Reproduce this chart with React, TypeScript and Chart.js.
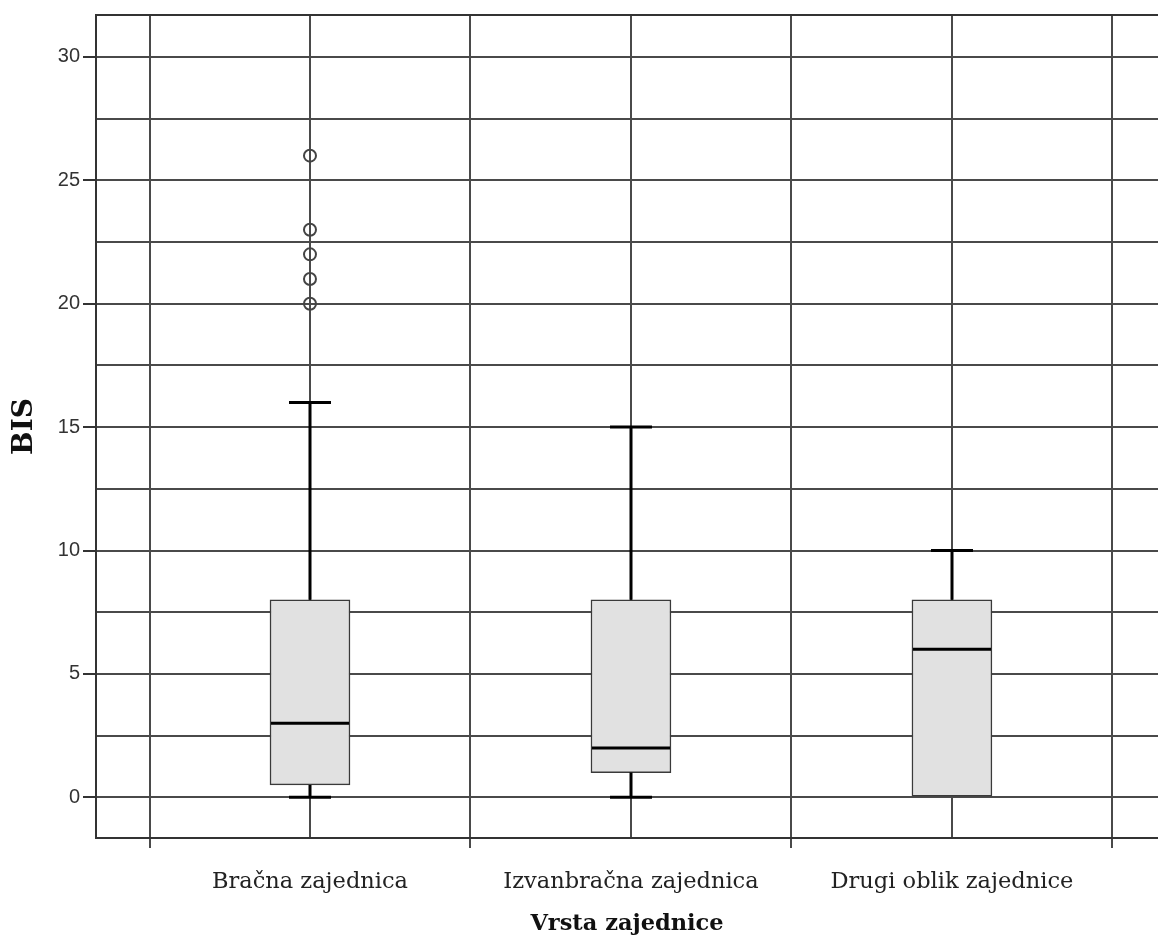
import React, { useEffect, useRef } from "react";
import { Chart, registerables } from "chart.js";

Chart.register(...registerables);

// ---- data ----
const categories = ["Bračna zajednica", "Izvanbračna zajednica", "Drugi oblik zajednice"];
const whiskerLow = [0, 0, 0];
const q1 = [0.5, 1, 0];
const median = [3, 2, 6];
const q3 = [8, 8, 8];
const whiskerHigh = [16, 15, 10];
const outliers = [[20, 21, 22, 23, 26], [], []];
const yTickValues = [0, 2.5, 5, 7.5, 10, 12.5, 15, 17.5, 20, 22.5, 25, 27.5, 30];
const xTickValues = [0.5, 1, 1.5, 2, 2.5, 3, 3.5];
const yAxisTitle = "BIS";
const xAxisTitle = "Vrsta zajednice";

const GRID = "#4a4a4a";
const CLEAR = "rgba(0,0,0,0)";

const boxPlugin = {
  id: "boxWhiskers",
  beforeDatasetsDraw(chart: any) {
    const { ctx, chartArea } = chart;
    ctx.save();
    ctx.strokeStyle = "#333";
    ctx.lineWidth = 2;
    ctx.beginPath();
    ctx.moveTo(chartArea.right + 10, chartArea.top);
    ctx.lineTo(chartArea.left, chartArea.top);
    ctx.lineTo(chartArea.left, chartArea.bottom);
    ctx.lineTo(chartArea.right + 10, chartArea.bottom);
    ctx.stroke();
    ctx.restore();
  },
  afterDatasetsDraw(chart: any) {
    const { ctx } = chart;
    const xs = chart.scales.x;
    const ys = chart.scales.y;
    const capHalf = 21;
    const boxHalf = 40;
    ctx.save();
    ctx.strokeStyle = "#000";
    ctx.lineWidth = 3;
    ctx.lineCap = "butt";
    categories.forEach((_, i) => {
      const cx = Math.round(xs.getPixelForValue(i + 1));
      const yHi = ys.getPixelForValue(whiskerHigh[i]);
      const yQ3 = ys.getPixelForValue(q3[i]);
      const yQ1 = ys.getPixelForValue(q1[i]);
      const yLo = ys.getPixelForValue(whiskerLow[i]);
      const yMed = ys.getPixelForValue(median[i]);
      ctx.beginPath();
      if (whiskerHigh[i] > q3[i]) {
        ctx.moveTo(cx, yQ3);
        ctx.lineTo(cx, yHi);
        ctx.moveTo(cx - capHalf, yHi);
        ctx.lineTo(cx + capHalf, yHi);
      }
      if (whiskerLow[i] < q1[i]) {
        ctx.moveTo(cx, yQ1);
        ctx.lineTo(cx, yLo);
        ctx.moveTo(cx - capHalf, yLo);
        ctx.lineTo(cx + capHalf, yLo);
      }
      ctx.moveTo(cx - boxHalf + 1, yMed);
      ctx.lineTo(cx + boxHalf - 1, yMed);
      ctx.stroke();
    });
    ctx.restore();
  },
};

export default function App() {
  const canvasRef = useRef<HTMLCanvasElement | null>(null);

  useEffect(() => {
    const canvas = canvasRef.current;
    if (!canvas) return;

    const outlierPoints: { x: number; y: number }[] = [];
    outliers.forEach((list, i) => list.forEach((v) => outlierPoints.push({ x: i + 1, y: v })));

    const chart = new Chart(canvas, {
      type: "bar",
      data: {
        datasets: [
          {
            type: "bar",
            data: categories.map((_, i) => ({ x: i + 1, y: [q1[i], q3[i]] })) as any,
            backgroundColor: "#e1e1e1",
            borderColor: "#3a3a3a",
            borderWidth: 1.5,
            borderSkipped: false,
            barThickness: 80,
          } as any,
          {
            type: "scatter",
            data: outlierPoints,
            pointStyle: "circle",
            pointRadius: 6,
            pointHoverRadius: 6,
            pointBorderWidth: 2,
            pointBorderColor: "#444",
            pointBackgroundColor: CLEAR,
          } as any,
        ],
      },
      options: {
        animation: false,
        responsive: true,
        maintainAspectRatio: false,
        layout: { padding: { top: 13, left: 0, right: 0, bottom: 0 } },
        plugins: {
          legend: { display: false },
          tooltip: { enabled: false },
        },
        scales: {
          x: {
            type: "linear",
            position: "bottom",
            min: 0.3333,
            max: 3.642,
            offset: false,
            afterBuildTicks: (s: any) => {
              s.ticks = xTickValues.map((v) => ({ value: v }));
            },
            afterFit: (s: any) => {
              s.height = 103;
              s.paddingLeft = 0;
              s.paddingRight = 0;
            },
            border: { display: false },
            grid: {
              offset: false,
              color: GRID,
              lineWidth: 2,
              tickLength: 10,
              tickColor: (c: any) => (c.tick && Number.isInteger(c.tick.value) ? CLEAR : GRID),
            },
            ticks: {
              autoSkip: false,
              maxRotation: 0,
              minRotation: 0,
              padding: 21,
              color: "#222",
              font: { family: "DejaVu Serif", size: 22.5 },
              callback: (v: any) => (Number.isInteger(v) ? categories[v - 1] : ""),
            },
            title: {
              display: true,
              text: xAxisTitle,
              color: "#111",
              font: { family: "DejaVu Serif", size: 22.5, weight: "bold" },
              padding: { top: 0, bottom: 3 },
            },
          },
          y: {
            type: "linear",
            position: "left",
            min: -1.65,
            max: 31.7,
            afterBuildTicks: (s: any) => {
              s.ticks = yTickValues.map((v) => ({ value: v }));
            },
            afterFit: (s: any) => {
              s.width = 96;
            },
            border: { display: false },
            grid: {
              color: GRID,
              lineWidth: 2,
              tickLength: 13,
              tickColor: (c: any) => (c.tick && c.tick.value % 5 === 0 ? "#333" : CLEAR),
            },
            ticks: {
              autoSkip: false,
              padding: 3,
              color: "#333",
              font: { family: "Liberation Sans", size: 20 },
              callback: (v: any) => (v % 5 === 0 ? String(v) : ""),
            },
            title: {
              display: true,
              text: yAxisTitle,
              color: "#111",
              font: { family: "DejaVu Serif", size: 28, weight: "bold" },
              padding: { top: 8, bottom: 0 },
            },
          },
        },
      },
      plugins: [boxPlugin],
    });

    return () => chart.destroy();
  }, []);

  return (
    <div style={{ position: "fixed", left: 0, top: 0, width: 1166, height: 941, background: "#fff" }}>
      <canvas ref={canvasRef} />
    </div>
  );
}
